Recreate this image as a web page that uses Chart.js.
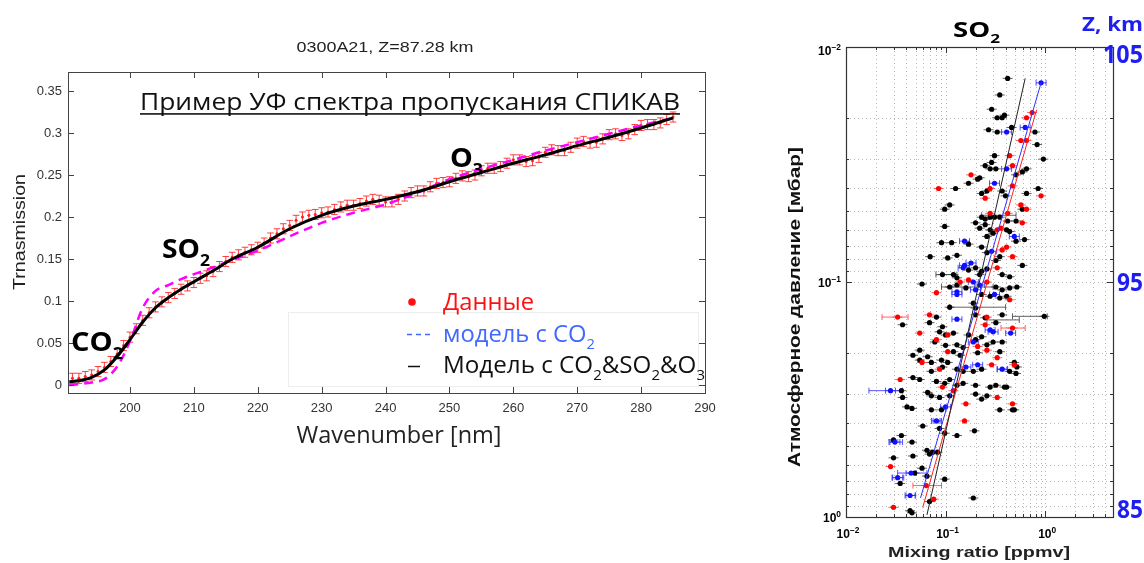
<!DOCTYPE html>
<html>
<head>
<meta charset="utf-8">
<script src="https://cdn.jsdelivr.net/npm/chart.js@4.4.1/dist/chart.umd.min.js"></script>
<style>
html, body { margin: 0; padding: 0; background: #fff; }
#wrap { position: relative; width: 1144px; height: 563px; overflow: hidden; }
#spec { position: absolute; left: 0; top: 0; }
#prof { position: absolute; left: 760px; top: 0; }
</style>
</head>
<body>
<div id="wrap">
<canvas id="spec" width="760" height="563"></canvas>
<canvas id="prof" width="384" height="563"></canvas>
</div>
<script>
'use strict';

/* ---- left panel: SPICAV UV transmission spectrum ---- */
var specTitle = '0300A21, Z=87.28 km';
var specXTicks = [200, 210, 220, 230, 240, 250, 260, 270, 280, 290];
var specYTicks = [0, 0.05, 0.1, 0.15, 0.2, 0.25, 0.3, 0.35];

var dataWl = [191, 192, 193, 194, 195, 196, 197, 198, 199, 200,
    201, 202, 203, 204, 205, 206, 207, 208, 209, 210,
    211, 212, 213, 214, 215, 216, 217, 218, 219, 220,
    221, 222, 223, 224, 225, 226, 227, 228, 229, 230,
    231, 232, 233, 234, 235, 236, 237, 238, 239, 240,
    241, 242, 243, 244, 245, 246, 247, 248, 249, 250,
    251, 252, 253, 254, 255, 256, 257, 258, 259, 260,
    261, 262, 263, 264, 265, 266, 267, 268, 269, 270,
    271, 272, 273, 274, 275, 276, 277, 278, 279, 280,
    281, 282, 283, 284, 285];
var dataTr = [0.008, 0.008, 0.010, 0.012, 0.016, 0.021, 0.028, 0.037, 0.047, 0.057,
    0.067, 0.077, 0.086, 0.093, 0.099, 0.104, 0.109, 0.114, 0.118, 0.122,
    0.127, 0.130, 0.135, 0.141, 0.147, 0.152, 0.155, 0.158, 0.161, 0.164,
    0.169, 0.175, 0.180, 0.186, 0.190, 0.196, 0.200, 0.202, 0.203, 0.205,
    0.206, 0.209, 0.212, 0.214, 0.214, 0.216, 0.219, 0.221, 0.220, 0.218,
    0.218, 0.221, 0.225, 0.229, 0.231, 0.231, 0.236, 0.240, 0.241, 0.242,
    0.246, 0.249, 0.248, 0.250, 0.255, 0.258, 0.258, 0.260, 0.264, 0.268,
    0.268, 0.266, 0.267, 0.271, 0.277, 0.280, 0.279, 0.279, 0.283, 0.288,
    0.290, 0.288, 0.289, 0.293, 0.298, 0.299, 0.297, 0.299, 0.304, 0.309,
    0.310, 0.310, 0.312, 0.316, 0.319];
var dataErr = 0.006;

var modelWl = [190.5, 192, 194, 196, 198, 200, 202, 204, 206, 208, 210, 213, 216, 220,
    225, 230, 235, 240, 245, 250, 255, 260, 265, 270, 275, 280, 285];
var modelFull = [0.004, 0.005, 0.009, 0.018, 0.034, 0.054, 0.075, 0.092, 0.104, 0.114, 0.123, 0.136, 0.150, 0.164,
    0.186, 0.202, 0.213, 0.221, 0.230, 0.242, 0.253, 0.264, 0.274, 0.285, 0.295, 0.306, 0.318];
var modelCO2 = [0.000, 0.001, 0.003, 0.007, 0.022, 0.052, 0.092, 0.112, 0.119, 0.126, 0.132, 0.140, 0.149, 0.160,
    0.177, 0.193, 0.205, 0.215, 0.229, 0.245, 0.257, 0.268, 0.279, 0.289, 0.299, 0.309, 0.318];

/* ---- right panel: SO2 mixing ratio profiles ---- */
var profXLabels = [0.01, 0.1, 1];
var profYLabels = [0.01, 0.1, 1];
var profXGrid = [0.01, 0.02, 0.03, 0.04, 0.05, 0.06, 0.07, 0.08, 0.09,
    0.1, 0.2, 0.3, 0.4, 0.5, 0.6, 0.7, 0.8, 0.9, 1, 2, 3, 4];
var profYGrid = [0.01, 0.02, 0.03, 0.04, 0.05, 0.06, 0.07, 0.08, 0.09,
    0.1, 0.2, 0.3, 0.4, 0.5, 0.6, 0.7, 0.8, 0.9, 1];
var altTicks = [105, 95, 85];

var blackMix = [0.42, 0.35, 0.39, 0.37, 0.33, 0.29, 0.27, 0.33, 0.46, 0.31,
    0.29, 0.25, 0.28, 0.32, 0.22, 0.51, 0.59, 0.65, 0.96, 0.85,
    0.83, 0.79, 0.17, 0.098, 0.07, 0.126, 0.21, 0.26, 0.37, 0.40,
    0.23, 0.65, 0.11, 0.59, 0.23, 0.25, 0.28, 0.31, 0.35, 0.42,
    0.51, 0.098, 0.20, 0.22, 0.25, 0.28, 0.30, 0.26, 0.41, 0.44,
    0.51, 0.62, 0.17, 0.115, 0.091, 0.23, 0.26, 0.13, 0.105, 0.35,
    0.32, 0.59, 0.17, 0.20, 0.23, 0.26, 0.22, 0.093, 0.12, 0.13,
    0.37, 0.44, 0.058, 0.11, 0.13, 0.16, 0.32, 0.37, 0.44, 0.52,
    0.23, 0.28, 0.35, 0.41, 0.11, 0.19, 0.20, 0.037, 0.081, 0.069,
    0.20, 0.25, 0.32, 0.37, 0.093, 0.087, 0.10, 0.12, 0.17, 0.20,
    0.23, 0.078, 0.10, 0.13, 0.15, 0.26, 0.30, 0.37, 0.055, 0.047,
    0.066, 0.12, 0.14, 0.21, 0.35, 0.055, 0.072, 0.091, 0.105, 0.093,
    0.15, 0.13, 0.072, 0.19, 0.23, 0.44, 0.51, 0.047, 0.055, 0.081,
    0.098, 0.11, 0.13, 0.15, 0.20, 0.28, 0.32, 0.39, 0.036, 0.037,
    0.066, 0.072, 0.087, 0.11, 0.20, 0.26, 0.23, 0.041, 0.046, 0.072,
    0.091, 0.35, 0.47, 0.059, 0.087, 0.098, 0.195, 0.13, 0.036, 0.030,
    0.046, 0.065, 0.069, 0.074, 0.083, 0.047, 0.030, 0.058, 0.065, 0.049,
    0.035, 0.098, 0.069, 0.19, 0.044, 0.046, 0.98, 0.49, 0.52, 0.41, 0.49];
var blackP = [0.0136, 0.016, 0.0195, 0.020, 0.020, 0.0184, 0.0225, 0.023, 0.022, 0.029,
    0.031, 0.032, 0.033, 0.033, 0.036, 0.035, 0.034, 0.033, 0.030, 0.040,
    0.026, 0.023, 0.038, 0.049, 0.078, 0.040, 0.0365, 0.041, 0.041, 0.043,
    0.042, 0.042, 0.047, 0.049, 0.053, 0.054, 0.053, 0.053, 0.053, 0.055,
    0.055, 0.058, 0.056, 0.059, 0.057, 0.060, 0.062, 0.064, 0.060, 0.061,
    0.067, 0.066, 0.069, 0.068, 0.068, 0.071, 0.075, 0.077, 0.079, 0.078,
    0.081, 0.085, 0.089, 0.087, 0.090, 0.088, 0.093, 0.093, 0.093, 0.096,
    0.093, 0.095, 0.102, 0.105, 0.103, 0.106, 0.105, 0.108, 0.106, 0.105,
    0.113, 0.115, 0.117, 0.115, 0.128, 0.123, 0.129, 0.152, 0.141, 0.149,
    0.138, 0.142, 0.149, 0.138, 0.155, 0.163, 0.168, 0.165, 0.168, 0.176,
    0.171, 0.18, 0.186, 0.185, 0.19, 0.185, 0.18, 0.18, 0.195, 0.205,
    0.208, 0.198, 0.205, 0.20, 0.198, 0.215, 0.22, 0.215, 0.22, 0.23,
    0.24, 0.235, 0.24, 0.24, 0.235, 0.24, 0.245, 0.255, 0.26, 0.265,
    0.27, 0.26, 0.275, 0.27, 0.275, 0.28, 0.275, 0.28, 0.29, 0.31,
    0.295, 0.305, 0.31, 0.305, 0.30, 0.305, 0.315, 0.34, 0.345, 0.35,
    0.35, 0.35, 0.35, 0.41, 0.42, 0.44, 0.43, 0.45, 0.45, 0.47,
    0.48, 0.52, 0.54, 0.53, 0.53, 0.55, 0.56, 0.62, 0.67, 0.65,
    0.72, 0.69, 0.86, 0.83, 0.94, 0.96, 0.14, 0.22, 0.23, 0.28, 0.35];

var redMix = [0.18, 0.44, 0.47, 0.57, 0.65, 0.65, 0.74, 0.91, 0.085, 0.28,
    0.47, 0.25, 0.57, 0.65, 0.28, 0.42, 0.59, 0.33, 0.36, 0.41,
    0.37, 0.47, 0.33, 0.14, 0.17, 0.26, 0.081, 0.44, 0.033, 0.069,
    0.26, 0.25, 0.055, 0.105, 0.081, 0.21, 0.26, 0.105, 0.33, 0.058,
    0.087, 0.29, 0.49, 0.035, 0.093, 0.12, 0.16, 0.47, 0.155, 0.028,
    0.064, 0.076, 0.030, 0.47, 0.33];
var redP = [0.035, 0.029, 0.032, 0.025, 0.025, 0.020, 0.019, 0.043, 0.040, 0.040,
    0.039, 0.044, 0.047, 0.049, 0.051, 0.051, 0.056, 0.060, 0.059, 0.071,
    0.073, 0.078, 0.087, 0.10, 0.098, 0.10, 0.111, 0.119, 0.141, 0.138,
    0.141, 0.152, 0.165, 0.168, 0.176, 0.188, 0.195, 0.198, 0.21, 0.22,
    0.235, 0.225, 0.225, 0.26, 0.28, 0.29, 0.33, 0.33, 0.39, 0.61,
    0.735, 0.84, 0.91, 0.157, 0.31];

var blueMix = [0.91, 0.41, 0.63, 0.41, 0.31, 0.49, 0.155, 0.29, 0.155, 0.18,
    0.15, 0.19, 0.22, 0.13, 0.20, 0.13, 0.31, 0.13, 0.28, 0.30,
    0.45, 0.19, 0.16, 0.21, 0.37, 0.028, 0.10, 0.081, 0.031, 0.045,
    0.033, 0.044];
var blueP = [0.0142, 0.023, 0.022, 0.033, 0.038, 0.064, 0.067, 0.074, 0.085, 0.083,
    0.087, 0.10, 0.103, 0.11, 0.108, 0.113, 0.113, 0.144, 0.16, 0.163,
    0.165, 0.18, 0.23, 0.225, 0.235, 0.29, 0.34, 0.39, 0.48, 0.65,
    0.68, 0.81];

// wide horizontal error bars: colour key, pressure, low and high mixing ratio
var wideColor = ['k', 'k', 'k', 'k', 'k', 'k', 'r', 'r', 'r', 'b', 'b', 'b', 'b', 'b', 'b', 'b'];
var wideP = [0.128, 0.145, 0.14, 0.093, 0.105, 0.052, 0.141, 0.157, 0.735, 0.29, 0.48, 0.65, 0.68, 0.81, 0.39, 0.235];
var wideLo = [0.11, 0.26, 0.47, 0.08, 0.091, 0.23, 0.023, 0.36, 0.047, 0.017, 0.027, 0.033, 0.029, 0.040, 0.075, 0.33];
var wideHi = [0.40, 0.55, 1.05, 0.13, 0.30, 0.51, 0.042, 0.63, 0.091, 0.037, 0.037, 0.065, 0.038, 0.050, 0.088, 0.42];

var fitBlackMix = [0.065, 0.63], fitBlackP = [0.98, 0.0136];
var fitRedMix = [0.059, 0.82], fitRedP = [0.91, 0.0185];
var fitBlueMix = [0.056, 0.91], fitBlueP = [0.83, 0.0142];

var BLUE_TXT = '#1e1ef0';
var CAL = '"Open Sans", "Noto Sans", sans-serif';
var HELV = '"Liberation Sans", Arial, sans-serif';

function pts(xs, ys) {
    return xs.map(function (v, i) { return { x: v, y: ys[i] }; });
}

/**
 * Draw text made of plain / sub / sup pieces. y is the baseline.
 * opt.width squeezes the whole run to that width.
 */
function drawRich(ctx, parts, x, y, opt) {
    var size = opt.size, weight = opt.weight || 'normal', small = opt.small || 0.62;
    var widths = parts.map(function (p) {
        ctx.font = weight + ' ' + (p[1] ? size * small : size) + 'px ' + opt.family;
        return ctx.measureText(p[0]).width;
    });
    var total = widths.reduce(function (a, b) { return a + b; }, 0);
    var sx = opt.width ? opt.width / total : 1;
    var start = opt.align === 'center' ? -total * sx / 2 : (opt.align === 'right' ? -total * sx : 0);
    ctx.save();
    ctx.translate(x, y);
    if (opt.rotate) {
        ctx.rotate(opt.rotate);
    }
    ctx.translate(start, 0);
    ctx.scale(sx, 1);
    ctx.fillStyle = opt.color || '#000';
    ctx.textAlign = 'left';
    ctx.textBaseline = 'alphabetic';
    var cx = 0;
    parts.forEach(function (p, i) {
        ctx.font = weight + ' ' + (p[1] ? size * small : size) + 'px ' + opt.family;
        var dy = p[1] === 'sub' ? size * 0.3 : (p[1] === 'sup' ? -size * 0.42 : 0);
        ctx.fillText(p[0], cx, dy);
        cx += widths[i];
    });
    if (opt.underline) {
        ctx.fillRect(0, size * 0.13, total, 1.6);
    }
    ctx.restore();
}

/* ---------------- left chart ---------------- */
var specDecor = {
    id: 'specDecor',
    beforeDatasetsDraw: function (chart) {
        var ctx = chart.ctx, xs = chart.scales.x, ys = chart.scales.y;
        ctx.save();
        // faint legend frame
        ctx.strokeStyle = '#ededed';
        ctx.lineWidth = 1;
        ctx.strokeRect(288.5, 312.5, 410, 74);
        // error bars of the measured points
        ctx.strokeStyle = 'rgba(255,30,30,0.85)';
        ctx.lineWidth = 1;
        for (var i = 0; i < dataWl.length; i++) {
            var px = xs.getPixelForValue(dataWl[i]);
            var top = ys.getPixelForValue(dataTr[i] + dataErr);
            var bot = ys.getPixelForValue(dataTr[i] - dataErr);
            ctx.beginPath();
            ctx.moveTo(px, top); ctx.lineTo(px, bot);
            ctx.moveTo(px - 3.3, top); ctx.lineTo(px + 3.3, top);
            ctx.moveTo(px - 3.3, bot); ctx.lineTo(px + 3.3, bot);
            ctx.stroke();
        }
        ctx.restore();
    },
    afterDraw: function (chart) {
        var ctx = chart.ctx, a = chart.chartArea, xs = chart.scales.x, ys = chart.scales.y;
        ctx.save();
        // box and inward ticks, Matlab style
        ctx.strokeStyle = '#444';
        ctx.lineWidth = 1;
        ctx.strokeRect(Math.round(a.left) + 0.5, Math.round(a.top) + 0.5,
            Math.round(a.right - a.left), Math.round(a.bottom - a.top));
        ctx.beginPath();
        specXTicks.forEach(function (v) {
            var px = Math.round(xs.getPixelForValue(v)) + 0.5;
            ctx.moveTo(px, a.bottom); ctx.lineTo(px, a.bottom - 6);
            ctx.moveTo(px, a.top); ctx.lineTo(px, a.top + 6);
        });
        specYTicks.forEach(function (v) {
            var py = Math.round(ys.getPixelForValue(v)) + 0.5;
            ctx.moveTo(a.left, py); ctx.lineTo(a.left + 6, py);
            ctx.moveTo(a.right, py); ctx.lineTo(a.right - 6, py);
        });
        ctx.stroke();

        drawRich(ctx, [[specTitle, '']], 385, 52, { size: 14, family: HELV, color: '#222', align: 'center', width: 177 });
        drawRich(ctx, [['Trnasmission', '']], 25, 232, { size: 17, family: HELV, color: '#222', align: 'center', rotate: -Math.PI / 2, width: 116 });
        drawRich(ctx, [['Wavenumber [nm]', '']], 399, 443, { size: 24, family: CAL, color: '#222', align: 'center', width: 205 });
        drawRich(ctx, [['Пример УФ спектра пропускания СПИКАВ', '']], 140, 110,
            { size: 24, family: CAL, color: '#111', width: 540, underline: true });

        drawRich(ctx, [['SO', ''], ['2', 'sub']], 162, 258, { size: 26, family: CAL, weight: 'bold', width: 48 });
        drawRich(ctx, [['CO', ''], ['2', 'sub']], 71, 351, { size: 27, family: CAL, weight: 'bold', width: 52 });
        drawRich(ctx, [['O', ''], ['3', 'sub']], 450, 167, { size: 27, family: CAL, weight: 'bold', width: 33 });

        // legend
        ctx.fillStyle = '#ff1010';
        ctx.beginPath();
        ctx.arc(412, 302, 3.8, 0, Math.PI * 2);
        ctx.fill();
        drawRich(ctx, [['Данные', '']], 443, 310, { size: 23, family: CAL, color: '#ff1010', width: 91 });
        ctx.strokeStyle = '#4169ff';
        ctx.lineWidth = 1.5;
        ctx.beginPath();
        [407, 416, 425].forEach(function (dx) {
            ctx.moveTo(dx, 334.5); ctx.lineTo(dx + 5, 334.5);
        });
        ctx.stroke();
        drawRich(ctx, [['модель с CO', ''], ['2', 'sub']], 443, 342, { size: 23, family: CAL, color: '#4169ff', width: 152 });
        ctx.strokeStyle = '#111';
        ctx.beginPath();
        ctx.moveTo(408, 366.5); ctx.lineTo(420, 366.5);
        ctx.stroke();
        drawRich(ctx, [['Модель с CO', ''], ['2', 'sub'], ['&SO', ''], ['2', 'sub'], ['&O', ''], ['3', 'sub']],
            443, 373, { size: 23, family: CAL, color: '#111', width: 262 });
        ctx.restore();
    }
};

new Chart(document.getElementById('spec'), {
    type: 'scatter',
    data: {
        datasets: [{
            label: 'Модель с CO2&SO2&O3',
            data: pts(modelWl, modelFull),
            showLine: true,
            borderColor: '#000',
            borderWidth: 3,
            pointRadius: 0,
            cubicInterpolationMode: 'monotone'
        }, {
            label: 'модель с CO2',
            data: pts(modelWl, modelCO2),
            showLine: true,
            borderColor: '#ff00ff',
            borderWidth: 2.5,
            borderDash: [9, 6],
            pointRadius: 0,
            cubicInterpolationMode: 'monotone'
        }, {
            label: 'Данные',
            data: pts(dataWl, dataTr),
            pointRadius: 1.5,
            backgroundColor: '#ff2020',
            borderWidth: 0
        }]
    },
    options: {
        responsive: false,
        animation: false,
        layout: { padding: { top: 72, right: 55, left: 0, bottom: 0 } },
        plugins: { legend: { display: false }, tooltip: { enabled: false } },
        scales: {
            x: {
                type: 'linear',
                min: 190.3,
                max: 290,
                grid: { display: false, drawTicks: false },
                border: { display: false },
                afterBuildTicks: function (s) { s.ticks = specXTicks.map(function (v) { return { value: v }; }); },
                afterFit: function (s) { s.height = 170; },
                ticks: { padding: 8, autoSkip: false, maxRotation: 0, color: '#333', font: { family: HELV, size: 13 } }
            },
            y: {
                type: 'linear',
                min: -0.0095,
                max: 0.3726,
                grid: { display: false, drawTicks: false },
                border: { display: false },
                afterBuildTicks: function (s) { s.ticks = specYTicks.map(function (v) { return { value: v }; }); },
                afterFit: function (s) { s.width = 68; },
                ticks: {
                    padding: 6, autoSkip: false, color: '#333', font: { family: HELV, size: 13 },
                    callback: function (v) { return String(+v.toFixed(2)); }
                }
            }
        }
    },
    plugins: [specDecor]
});

/* ---------------- right chart ---------------- */
var tailColor = { k: 'rgba(60,60,60,0.8)', r: 'rgba(255,60,60,0.8)', b: 'rgba(40,40,255,0.8)' };

var profDecor = {
    id: 'profDecor',
    beforeDatasetsDraw: function (chart) {
        var ctx = chart.ctx, a = chart.chartArea, xs = chart.scales.x, ys = chart.scales.y;
        ctx.save();
        // dotted log grid
        ctx.strokeStyle = '#b8b8b8';
        ctx.lineWidth = 1;
        ctx.setLineDash([1, 3]);
        ctx.beginPath();
        profXGrid.forEach(function (v) {
            var px = Math.round(xs.getPixelForValue(v)) + 0.5;
            ctx.moveTo(px, a.top); ctx.lineTo(px, a.bottom);
        });
        profYGrid.forEach(function (v) {
            var py = Math.round(ys.getPixelForValue(v)) + 0.5;
            ctx.moveTo(a.left, py); ctx.lineTo(a.right, py);
        });
        ctx.stroke();
        ctx.setLineDash([]);

        // short error tails on every retrieval
        var groups = [['k', blackMix, blackP], ['r', redMix, redP], ['b', blueMix, blueP]];
        groups.forEach(function (g) {
            ctx.strokeStyle = tailColor[g[0]];
            ctx.beginPath();
            g[1].forEach(function (m, i) {
                var px = xs.getPixelForValue(m), py = ys.getPixelForValue(g[2][i]);
                ctx.moveTo(px - 5, py); ctx.lineTo(px + 5, py);
                if (g[0] === 'b') {
                    ctx.moveTo(px - 5, py - 3); ctx.lineTo(px - 5, py + 3);
                    ctx.moveTo(px + 5, py - 3); ctx.lineTo(px + 5, py + 3);
                }
            });
            ctx.stroke();
        });
        // wide error bars
        wideP.forEach(function (p, i) {
            var py = ys.getPixelForValue(p);
            var x0 = xs.getPixelForValue(wideLo[i]), x1 = xs.getPixelForValue(wideHi[i]);
            ctx.strokeStyle = tailColor[wideColor[i]];
            ctx.beginPath();
            ctx.moveTo(x0, py); ctx.lineTo(x1, py);
            ctx.moveTo(x0, py - 3); ctx.lineTo(x0, py + 3);
            ctx.moveTo(x1, py - 3); ctx.lineTo(x1, py + 3);
            ctx.stroke();
        });
        ctx.restore();
    },
    afterDraw: function (chart) {
        var ctx = chart.ctx, a = chart.chartArea, xs = chart.scales.x, ys = chart.scales.y, zs = chart.scales.y1;
        ctx.save();
        ctx.strokeStyle = '#333';
        ctx.lineWidth = 1.2;
        ctx.strokeRect(Math.round(a.left) + 0.5, Math.round(a.top) + 0.5,
            Math.round(a.right - a.left), Math.round(a.bottom - a.top));
        ctx.lineWidth = 1;
        ctx.beginPath();
        profXGrid.forEach(function (v) {
            var px = Math.round(xs.getPixelForValue(v)) + 0.5;
            var len = profXLabels.indexOf(v) >= 0 ? 6 : 3;
            ctx.moveTo(px, a.bottom); ctx.lineTo(px, a.bottom - len);
            ctx.moveTo(px, a.top); ctx.lineTo(px, a.top + len);
        });
        profYGrid.forEach(function (v) {
            var py = Math.round(ys.getPixelForValue(v)) + 0.5;
            var len = profYLabels.indexOf(v) >= 0 ? 6 : 3;
            ctx.moveTo(a.left, py); ctx.lineTo(a.left + len, py);
            ctx.moveTo(a.right, py); ctx.lineTo(a.right - len, py);
        });
        ctx.stroke();

        // 10^n tick labels
        profXLabels.forEach(function (v) {
            var e = Math.round(Math.log10(v));
            drawRich(ctx, [['10', ''], [e === 0 ? '0' : '\u2212' + (-e), 'sup']],
                xs.getPixelForValue(v) + 2, 538, { size: 12, family: HELV, weight: 'bold', align: 'center', small: 0.7 });
        });
        profYLabels.forEach(function (v) {
            var e = Math.round(Math.log10(v));
            drawRich(ctx, [['10', ''], [e === 0 ? '0' : '\u2212' + (-e), 'sup']],
                a.left - 5, ys.getPixelForValue(v) + (e === -2 ? 8 : 5), { size: 12, family: HELV, weight: 'bold', align: 'right', small: 0.7 });
        });
        // altitude labels on the right
        altTicks.forEach(function (z) {
            drawRich(ctx, [[String(z), '']], 383, zs.getPixelForValue(z) + 8,
                { size: 25, family: CAL, weight: 'bold', color: BLUE_TXT, align: 'right', width: z > 99 ? 40 : 26 });
        });
        drawRich(ctx, [['Z, km', '']], 322, 31, { size: 20, family: CAL, weight: 'bold', color: BLUE_TXT, width: 61 });
        drawRich(ctx, [['SO', ''], ['2', 'sub']], 193, 37, { size: 21, family: CAL, weight: 'bold', width: 47 });
        drawRich(ctx, [['Атмосферное давление [мбар]', '']], 40, 307,
            { size: 17, family: HELV, weight: 'bold', color: '#111', align: 'center', rotate: -Math.PI / 2, width: 320 });
        drawRich(ctx, [['Mixing ratio [ppmv]', '']], 219, 557,
            { size: 15, family: HELV, weight: 'bold', color: '#222', align: 'center', width: 182 });
        ctx.restore();
    }
};

new Chart(document.getElementById('prof'), {
    type: 'scatter',
    data: {
        datasets: [{
            label: 'fit black',
            data: pts(fitBlackMix, fitBlackP),
            showLine: true, borderColor: '#222', borderWidth: 1, pointRadius: 0
        }, {
            label: 'fit red',
            data: pts(fitRedMix, fitRedP),
            showLine: true, borderColor: '#ff2020', borderWidth: 1, pointRadius: 0
        }, {
            label: 'fit blue',
            data: pts(fitBlueMix, fitBlueP),
            showLine: true, borderColor: '#3030ff', borderWidth: 1, pointRadius: 0
        }, {
            label: 'blue',
            data: pts(blueMix, blueP),
            pointRadius: 2.6, backgroundColor: '#1010ff', borderWidth: 0
        }, {
            label: 'red',
            data: pts(redMix, redP),
            pointRadius: 2.6, backgroundColor: '#ff0000', borderWidth: 0
        }, {
            label: 'black',
            data: pts(blackMix, blackP),
            pointRadius: 2.6, backgroundColor: '#000', borderWidth: 0
        }]
    },
    options: {
        responsive: false,
        animation: false,
        layout: { padding: { top: 47, right: 0, left: 0, bottom: 0 } },
        plugins: { legend: { display: false }, tooltip: { enabled: false } },
        scales: {
            x: {
                type: 'logarithmic',
                min: 0.01,
                max: 4.8,
                grid: { display: false },
                border: { display: false },
                ticks: { display: false },
                afterFit: function (s) { s.height = 46; }
            },
            y: {
                type: 'logarithmic',
                reverse: true,
                min: 0.01,
                max: 1,
                grid: { display: false },
                border: { display: false },
                ticks: { display: false },
                afterFit: function (s) { s.width = 86; }
            },
            y1: {
                type: 'linear',
                position: 'right',
                min: 84.7,
                max: 105.35,
                grid: { display: false },
                border: { display: false },
                ticks: { display: false },
                afterFit: function (s) { s.width = 31; }
            }
        }
    },
    plugins: [profDecor]
});
</script>
</body>
</html>
